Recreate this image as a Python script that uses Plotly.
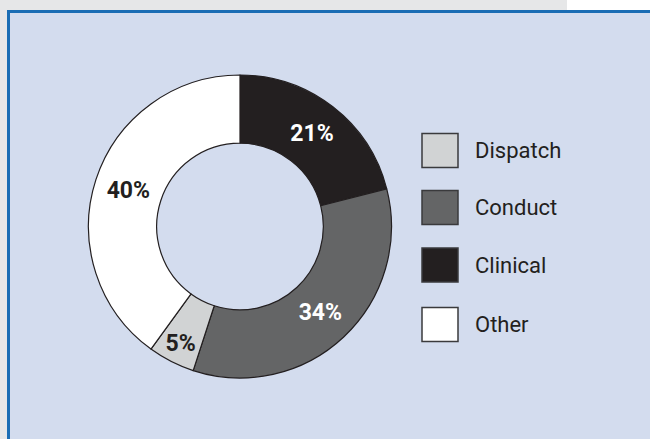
import plotly.graph_objects as go

# Data
slice_labels = ["Clinical", "Conduct", "Dispatch", "Other"]
slice_values = [21, 34, 5, 40]
slice_colors = ["#231f20", "#646566", "#d1d3d4", "#ffffff"]
slice_text_colors = ["#ffffff", "#ffffff", "#231f20", "#231f20"]
legend_order = ["Dispatch", "Conduct", "Clinical", "Other"]

W, H = 650, 439
FONT = "Roboto, sans-serif"


def px(x):
    return x / W


def py(y):
    return 1 - y / H


fig = go.Figure()
fig.add_trace(go.Pie(
    labels=slice_labels,
    values=slice_values,
    sort=False,
    direction="clockwise",
    rotation=0,
    hole=0.55,
    marker=dict(colors=slice_colors, line=dict(color="#231f20", width=1.2)),
    texttemplate="%{percent:.0%}",
    textposition="inside",
    insidetextorientation="horizontal",
    textfont=dict(family=FONT, size=23, color=slice_text_colors, weight="bold"),
    domain=dict(x=[px(88.5), px(391.5)], y=[1 - 378 / H, 1 - 75 / H]),
    showlegend=False,
    hoverinfo="label+percent",
))

shapes = [
    # white corner top right
    dict(type="rect", xref="paper", yref="paper", x0=px(567), x1=px(660),
         y0=py(-5), y1=py(10), fillcolor="#ffffff", line=dict(width=0), layer="below"),
    # panel
    dict(type="rect", xref="paper", yref="paper", x0=px(8.5), x1=px(670),
         y0=py(460), y1=py(11.5), fillcolor="#d3dcee",
         line=dict(color="#1a6db4", width=3), layer="below"),
]

annotations = []
color_of = dict(zip(slice_labels, slice_colors))
y_centers = [150.5, 207.5, 265, 324.5]
for name, yc in zip(legend_order, y_centers):
    shapes.append(dict(type="rect", xref="paper", yref="paper",
                       x0=px(422), x1=px(458), y0=py(yc + 17), y1=py(yc - 17),
                       fillcolor=color_of[name], line=dict(color="#3a3a3c", width=1.5)))
    annotations.append(dict(xref="paper", yref="paper", x=px(473), y=py(yc),
                            text=name, showarrow=False, xanchor="left", yanchor="middle",
                            font=dict(family=FONT, size=22, color="#231f20")))

fig.update_layout(
    width=W, height=H,
    margin=dict(l=0, r=0, t=0, b=0),
    paper_bgcolor="#e6e7e8",
    plot_bgcolor="#e6e7e8",
    shapes=shapes,
    annotations=annotations,
    uniformtext=dict(minsize=23, mode="show"),
)

fig.write_html(
    "out.html",
    config={"displayModeBar": False},
    post_script="document.body.style.margin='0';document.body.style.overflow='hidden';",
)
